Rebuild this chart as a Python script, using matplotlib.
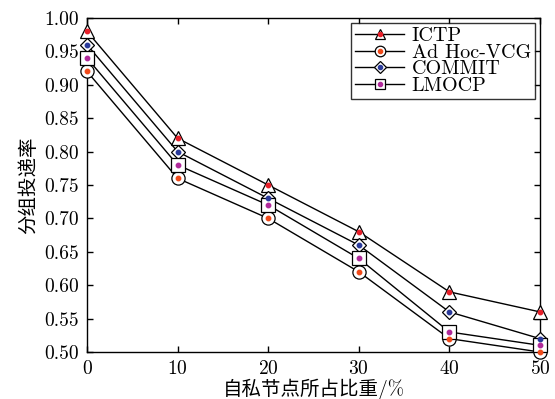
import matplotlib
matplotlib.use("Agg")
import matplotlib.pyplot as plt
from matplotlib.lines import Line2D

plt.rcParams['font.family'] = ['cmr10', 'Noto Sans CJK SC']
plt.rcParams['axes.formatter.use_mathtext'] = True

ratio = [0, 10, 20, 30, 40, 50]
ictp = [0.98, 0.82, 0.75, 0.68, 0.59, 0.56]
adhoc_vcg = [0.92, 0.76, 0.70, 0.62, 0.52, 0.50]
commit = [0.96, 0.80, 0.73, 0.66, 0.56, 0.52]
lmocp = [0.94, 0.78, 0.72, 0.64, 0.53, 0.51]

series = [
    ('ICTP', ictp, '^', '#e8202a', 9.5),
    ('Ad Hoc-VCG', adhoc_vcg, 'o', '#f04a1a', 9.5),
    ('COMMIT', commit, 'D', '#2a3a9a', 7.5),
    ('LMOCP', lmocp, 's', '#b02a9a', 9.5),
]

fig = plt.figure(figsize=(5.55, 3.99), dpi=100)
ax = fig.add_axes([87 / 555, 1 - 352 / 399, 453 / 555, 334 / 399])

handles = []
for name, vals, mk, col, ms in series:
    ax.plot(ratio, vals, color='black', lw=1.0, marker=mk, ms=ms,
            mfc='white', mec='black', mew=0.9, clip_on=False, zorder=3)
    ax.plot(ratio, vals, ls='none', marker='o', ms=3.2, mfc=col, mec=col,
            clip_on=False, zorder=4)
    h1 = Line2D([], [], color='black', lw=1.0, marker=mk, ms=ms * 0.8,
                mfc='white', mec='black', mew=0.9)
    h2 = Line2D([], [], ls='none', marker='o', ms=3, mfc=col, mec=col)
    handles.append(((h1, h2), name))

ax.set_xlim(0, 50)
ax.set_ylim(0.5, 1.0)
ax.set_xticks(ratio)
ax.set_yticks([0.50, 0.55, 0.60, 0.65, 0.70, 0.75, 0.80, 0.85, 0.90, 0.95, 1.00])
ax.yaxis.set_major_formatter(matplotlib.ticker.FormatStrFormatter('%.2f'))
ax.tick_params(direction='in', top=True, right=True, labelsize=14, length=4,
               width=1.0, pad=6)
for sp in ax.spines.values():
    sp.set_linewidth(1.0)

ax.set_xlabel('自私节点所占比重/%', fontsize=14, labelpad=0)
ax.set_ylabel('分组投递率', fontsize=14, labelpad=4)

leg = ax.legend([h for h, _ in handles], [n for _, n in handles],
                loc='upper right', bbox_to_anchor=(0.998, 0.996),
                fontsize=14.5, frameon=True, fancybox=False, edgecolor='black',
                handlelength=2.4, labelspacing=-0.08, borderpad=0.2,
                handletextpad=0.4, borderaxespad=0.2)
leg.get_frame().set_linewidth(1.0)

fig.savefig('out.png', dpi=100)
